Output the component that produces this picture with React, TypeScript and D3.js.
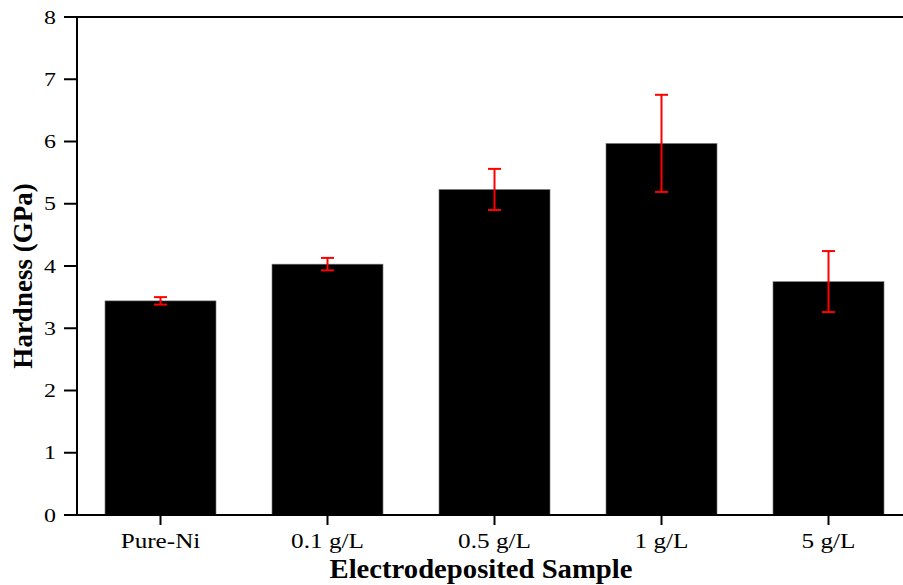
import React from 'react';
import * as d3 from 'd3';

const samples = ['Pure-Ni', '0.1 g/L', '0.5 g/L', '1 g/L', '5 g/L'];
const hardness = [3.44, 4.03, 5.23, 5.97, 3.75];
const hardnessErr = [0.06, 0.1, 0.33, 0.78, 0.49];
const yTicks = [0, 1, 2, 3, 4, 5, 6, 7, 8];

const W = 903;
const H = 585;
const left = 77;
const top = 17;
const bottom = 515;
// the reference text is a bit wider than the font, stretch it sideways
const stretch = 1.26;

const App: React.FC = () => {
  const x = d3.scaleBand<string>()
    .domain(samples)
    .range([left, 912])
    .paddingInner(0.335)
    .paddingOuter(0.1675);
  const y = d3.scaleLinear().domain([0, 8]).range([bottom, top]);
  const font = '"Liberation Serif", "Times New Roman", serif';

  return (
    <svg width={W} height={H} style={{ position: 'absolute', left: 0, top: 0 }}>
      <rect width={W} height={H} fill="#fff" />
      {samples.map((s, i) => (
        <rect key={s} x={x(s)} y={y(hardness[i])} width={x.bandwidth()}
          height={y(0) - y(hardness[i])} fill="#000" stroke="#888" strokeWidth={0.6} />
      ))}
      {samples.map((s, i) => {
        const cx = (x(s) as number) + x.bandwidth() / 2;
        const y1 = y(hardness[i] + hardnessErr[i]);
        const y2 = y(hardness[i] - hardnessErr[i]);
        return (
          <g key={'e' + s} stroke="#ff0000" strokeWidth={2}>
            <line x1={cx} x2={cx} y1={y1} y2={y2} />
            <line x1={cx - 6.5} x2={cx + 6.5} y1={y1} y2={y1} />
            <line x1={cx - 6.5} x2={cx + 6.5} y1={y2} y2={y2} />
          </g>
        );
      })}
      {/* frame */}
      <line x1={left} x2={left} y1={top} y2={bottom + 1} stroke="#000" strokeWidth={2} />
      <line x1={left - 1} x2={W} y1={bottom} y2={bottom} stroke="#000" strokeWidth={2} />
      <line x1={left - 1} x2={W} y1={top} y2={top} stroke="#000" strokeWidth={2} />
      {yTicks.map(t => (
        <g key={t}>
          <line x1={left - 13} x2={left} y1={y(t)} y2={y(t)} stroke="#000" strokeWidth={2} />
          <g transform={`translate(${left - 21},${y(t)}) scale(${stretch},1)`}>
            <text dy="0.35em" textAnchor="end" fontFamily={font} fontSize={19}>{t}</text>
          </g>
        </g>
      ))}
      {samples.map(s => {
        const cx = (x(s) as number) + x.bandwidth() / 2;
        return (
          <g key={'t' + s}>
            <line x1={cx} x2={cx} y1={bottom} y2={bottom + 10} stroke="#000" strokeWidth={2} />
            <g transform={`translate(${cx},${bottom + 33}) scale(${stretch},1)`}>
              <text textAnchor="middle" fontFamily={font} fontSize={20}>{s}</text>
            </g>
          </g>
        );
      })}
      <text x={481} y={578} textAnchor="middle" fontFamily={font} fontSize={27} fontWeight="bold"
        textLength={303} lengthAdjust="spacingAndGlyphs">
        Electrodeposited Sample
      </text>
      <text transform={`translate(32,276) rotate(-90)`} textAnchor="middle"
        fontFamily={font} fontSize={27} fontWeight="bold">Hardness (GPa)</text>
    </svg>
  );
};

export default App;
